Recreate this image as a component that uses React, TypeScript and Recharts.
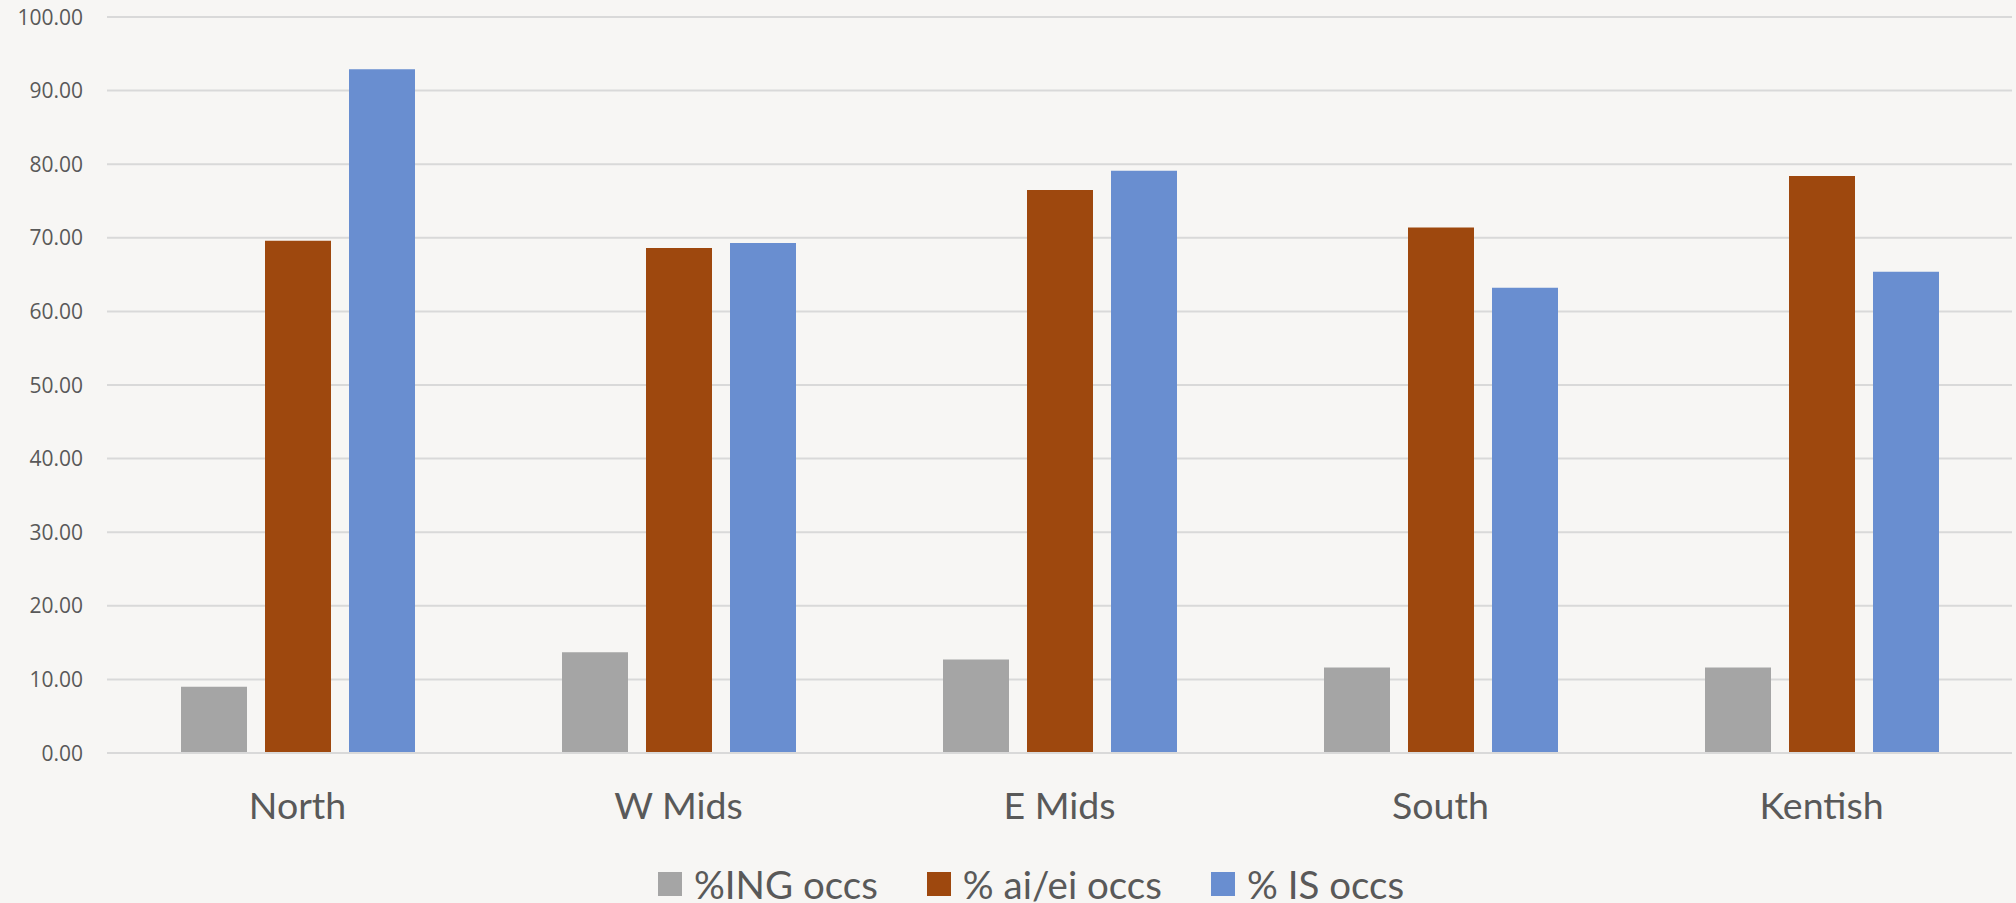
import React from 'react';
import { BarChart, Bar, XAxis, YAxis, CartesianGrid, Legend } from 'recharts';

const regions = ['North', 'W Mids', 'E Mids', 'South', 'Kentish'];
const ingOccs = [9.0, 13.7, 12.7, 11.6, 11.6];
const aiEiOccs = [69.6, 68.6, 76.5, 71.4, 78.4];
const isOccs = [92.9, 69.3, 79.1, 63.2, 65.4];
const yTicks = [0, 10, 20, 30, 40, 50, 60, 70, 80, 90, 100];

const seriesNames = ['%ING occs', '% ai/ei occs', '% IS occs'];
const seriesColors = ['#A5A5A5', '#9E480E', '#698ED0'];

const data = regions.map((region, i) => ({
  region,
  ing: ingOccs[i],
  aiei: aiEiOccs[i],
  is: isOccs[i],
}));

const FONT = 'Lato, "Open Sans", sans-serif';
const TEXT = '#595959';

const CategoryTick = (props: any) => {
  const { x, y, payload } = props;
  return (
    <text x={x} y={y} dy={58} textAnchor="middle" fill={TEXT} fontSize={37.5} fontFamily={FONT}>
      {payload.value}
    </text>
  );
};

// value labels on the left, right-aligned at x=83
const ValueTick = (props: any) => {
  const { y, payload } = props;
  return (
    <text
      x={83}
      y={y}
      dy={7.5}
      textAnchor="end"
      fill={TEXT}
      fontSize={21}
      fontFamily='"Open Sans", sans-serif'
    >
      {Number(payload.value).toFixed(2)}
    </text>
  );
};

const LegendContent = () => (
  <div
    style={{
      display: 'flex',
      justifyContent: 'center',
      alignItems: 'center',
      height: 60,
      paddingTop: 22,
      paddingLeft: 50,
      boxSizing: 'border-box',
      gap: 49,
      fontFamily: FONT,
      fontSize: 38.5,
      color: TEXT,
    }}
  >
    {seriesNames.map((name, i) => (
      <div key={name} style={{ display: 'flex', alignItems: 'center', gap: 12 }}>
        <span style={{ width: 24, height: 24, background: seriesColors[i], display: 'inline-block' }} />
        <span style={{ lineHeight: 1, whiteSpace: 'nowrap' }}>{name}</span>
      </div>
    ))}
  </div>
);

export default function App() {
  return (
    <div style={{ position: 'absolute', left: 0, top: 0, width: 2016, height: 903, background: '#F7F6F4' }}>
      <BarChart
        width={2016}
        height={903}
        data={data}
        margin={{ top: 17, right: 4, left: 0, bottom: 0 }}
        barSize={66}
        barGap={18}
      >
        <CartesianGrid vertical={false} stroke="#D9D9D9" strokeWidth={2} />
        <XAxis
          dataKey="region"
          height={90}
          axisLine={{ stroke: '#D9D9D9', strokeWidth: 2 }}
          tickLine={false}
          tick={<CategoryTick />}
          interval={0}
        />
        <YAxis
          width={107}
          domain={[0, 100]}
          ticks={yTicks}
          interval={0}
          axisLine={false}
          tickLine={false}
          tick={<ValueTick />}
        />
        <Legend verticalAlign="bottom" height={60} content={<LegendContent />} />
        <Bar dataKey="ing" name={seriesNames[0]} fill={seriesColors[0]} isAnimationActive={false} />
        <Bar dataKey="aiei" name={seriesNames[1]} fill={seriesColors[1]} isAnimationActive={false} />
        <Bar dataKey="is" name={seriesNames[2]} fill={seriesColors[2]} isAnimationActive={false} />
      </BarChart>
    </div>
  );
}
